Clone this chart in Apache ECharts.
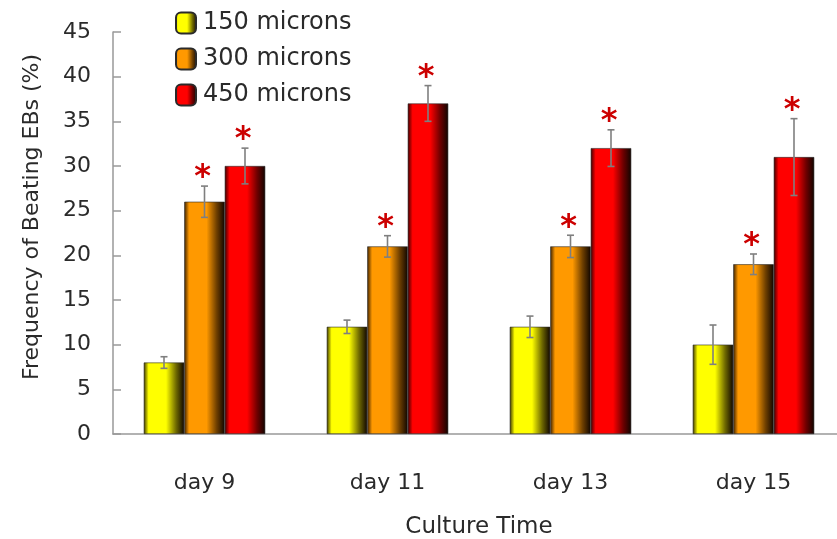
<!DOCTYPE html>
<html>
<head>
<meta charset="utf-8">
<script src="https://cdn.jsdelivr.net/npm/echarts@6/dist/echarts.min.js"></script>
<style>html,body{margin:0;padding:0;background:#fff}#c{width:837px;height:539px}</style>
</head>
<body>
<div id="c"></div>
<script>
const categories = ['day 9', 'day 11', 'day 13', 'day 15'];
const seriesNames = ['150 microns', '300 microns', '450 microns'];
const values150 = [8, 12, 12, 10];
const values300 = [26, 21, 21, 19];
const values450 = [30, 37, 32, 31];
const err150 = [0.65, 0.75, 1.2, 2.2];
const err300 = [1.75, 1.2, 1.25, 1.15];
const err450 = [2.0, 2.0, 2.05, 4.3];
const sig150 = [false, false, false, false];
const sig300 = [true, true, true, true];
const sig450 = [true, true, true, true];
const yTicks = [0, 5, 10, 15, 20, 25, 30, 35, 40, 45];

const FONT = '"DejaVu Sans"';
const BAR_W = 40.5;
const TEXT = '#2a2a2a';

function grad(dark, bright, mid) {
  return new echarts.graphic.LinearGradient(0, 0, 1, 0, [
    {offset: 0, color: dark},
    {offset: 0.12, color: bright},
    {offset: 0.55, color: bright},
    {offset: 0.8, color: mid},
    {offset: 1, color: '#100500'}
  ]);
}
const colors = [
  grad('#3b3500', '#ffff00', '#6e6800'),
  grad('#3b2000', '#ff9900', '#6e3f00'),
  grad('#3b0000', '#ff0000', '#6e0000')
];

const vals = [values150, values300, values450];
const errs = [err150, err300, err450];
const sigs = [sig150, sig300, sig450];

const barSeries = seriesNames.map((n, i) => ({
  name: n,
  type: 'bar',
  barWidth: BAR_W,
  barGap: '0%',
  data: vals[i],
  itemStyle: {color: colors[i], borderColor: '#2a2a2a', borderWidth: 0.6},
  z: 2
}));

const errSeries = seriesNames.map((n, i) => ({
  type: 'custom',
  silent: true,
  z: 5,
  data: vals[i].map((v, k) => [k, v, errs[i][k], sigs[i][k] ? 1 : 0]),
  renderItem: function (params, api) {
    const k = api.value(0), v = api.value(1), e = api.value(2), s = api.value(3);
    const off = (i - 1) * BAR_W;
    const top = api.coord([k, v + e]);
    const bot = api.coord([k, v - e]);
    const x = top[0] + off;
    const st = {stroke: '#7f7f7f', lineWidth: 1.6};
    const children = [
      {type: 'line', shape: {x1: x, y1: top[1], x2: x, y2: bot[1]}, style: st},
      {type: 'line', shape: {x1: x - 3.5, y1: top[1], x2: x + 3.5, y2: top[1]}, style: st},
      {type: 'line', shape: {x1: x - 3.5, y1: bot[1], x2: x + 3.5, y2: bot[1]}, style: st}
    ];
    if (s) {
      children.push({type: 'text', style: {text: '*', x: x - 2, y: top[1] - 8, textAlign: 'center', textVerticalAlign: 'middle',
        fill: '#cc0000', font: 'bold 32px ' + FONT}});
    }
    return {type: 'group', children: children};
  }
}));

const chart = echarts.init(document.getElementById('c'), null, {renderer: 'canvas'});
chart.setOption({
  animation: false,
  backgroundColor: '#fff',
  grid: {left: 113, top: 32, bottom: 105, width: 732, containLabel: false, outerBoundsMode: 'none'},
  legend: {
    orient: 'vertical', left: 175, top: 11, padding: 0, itemWidth: 20, itemHeight: 21, itemGap: 12,
    data: seriesNames,
    textStyle: {fontFamily: FONT, fontSize: 24, color: TEXT, padding: [0, 0, 0, 2]}
  },
  xAxis: {
    type: 'category', data: categories,
    name: 'Culture Time', nameLocation: 'middle', nameGap: 82,
    nameTextStyle: {fontFamily: FONT, fontSize: 23, color: TEXT},
    axisLine: {lineStyle: {color: '#999', width: 1.5}},
    axisTick: {inside: true, length: 6, lineStyle: {color: '#999', width: 1.5}},
    axisLabel: {fontFamily: FONT, fontSize: 22, color: TEXT, margin: 38}
  },
  yAxis: {
    type: 'value', min: 0, max: 45, interval: 5,
    name: 'Frequency of Beating EBs (%)', nameLocation: 'middle', nameGap: 70,
    nameTextStyle: {fontFamily: FONT, fontSize: 22, color: TEXT, padding: [0, 0, 0, 32]},
    axisLine: {show: true, lineStyle: {color: '#999', width: 1.5}},
    axisTick: {show: true, inside: true, length: 8, lineStyle: {color: '#999', width: 1.5}},
    splitLine: {show: false},
    axisLabel: {fontFamily: FONT, fontSize: 22, color: TEXT, margin: 22,
      formatter: v => yTicks.includes(v) ? String(v) : ''}
  },
  series: barSeries.concat(errSeries)
});
</script>
</body>
</html>
